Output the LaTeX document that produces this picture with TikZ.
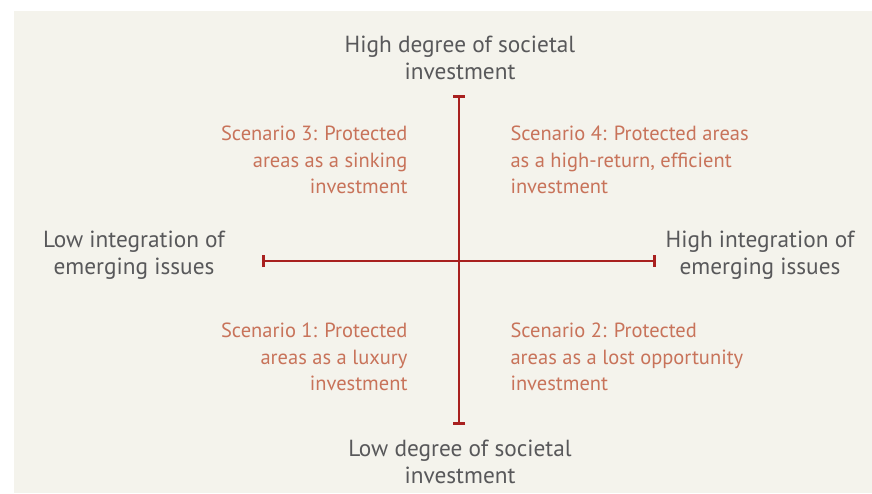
\documentclass[tikz,border=0pt]{standalone}
\usepackage{fontspec}
\setmainfont{PT Sans}
\usepackage{tikz}
\usetikzlibrary{arrows.meta}
\usetikzlibrary{positioning}
\definecolor{paper}{HTML}{F4F3EC}
\definecolor{axisred}{HTML}{A8201F}
\definecolor{scengold}{HTML}{C8735A}
\definecolor{labelgray}{HTML}{58585A}
\tikzset{axis/.style = {draw=axisred, line width=2.6pt,
                        {Bar[width=12pt,line width=2.6pt]}-{Bar[width=12pt,line width=2.6pt]}},
         axislabel/.style = {text=labelgray, align=center,
                             font=\fontsize{23.3}{27}\selectfont},
         scenario/.style = {text=scengold,
                            font=\fontsize{20.5}{26.5}\selectfont}}

\begin{document}
\begin{tikzpicture}[x=1pt, y=-1pt]
    \useasboundingbox (0, 0) rectangle (872, 493);
    \fill [paper] (14, 11) rectangle (872, 493);

    \coordinate (top) at (459, 95);
    \coordinate (bottom) at (459, 425);
    \coordinate (left) at (262, 261);
    \coordinate (right) at (656, 261);
    \draw [axis] (top) -- (bottom);
    \draw [axis] (left) -- (right);

    \node [axislabel] (high) at (460, 58) {High degree of societal\\investment};
    \node [axislabel] (low) at (460, 462) {Low degree of societal\\investment};
    \node [axislabel] (lowint) at (134, 255) {Low integration of\\emerging issues};
    \node [axislabel] (highint) at (760, 255) {High integration of\\emerging issues};

    \node [scenario, align=right, anchor=east] (sc3) at (411, 160)
      {Scenario 3: Protected\\areas as a sinking\\investment};
    \node [scenario, align=left, anchor=west] (sc4) at (507, 160)
      {Scenario 4: Protected areas\\as a high-return, efficient\\investment};
    \node [scenario, align=right, anchor=east] (sc1) at (411, 357)
      {Scenario 1: Protected\\areas as a luxury\\investment};
    \node [scenario, align=left, anchor=west] (sc2) at (507, 357)
      {Scenario 2: Protected\\areas as a lost opportunity\\investment};
\end{tikzpicture}
\end{document}
